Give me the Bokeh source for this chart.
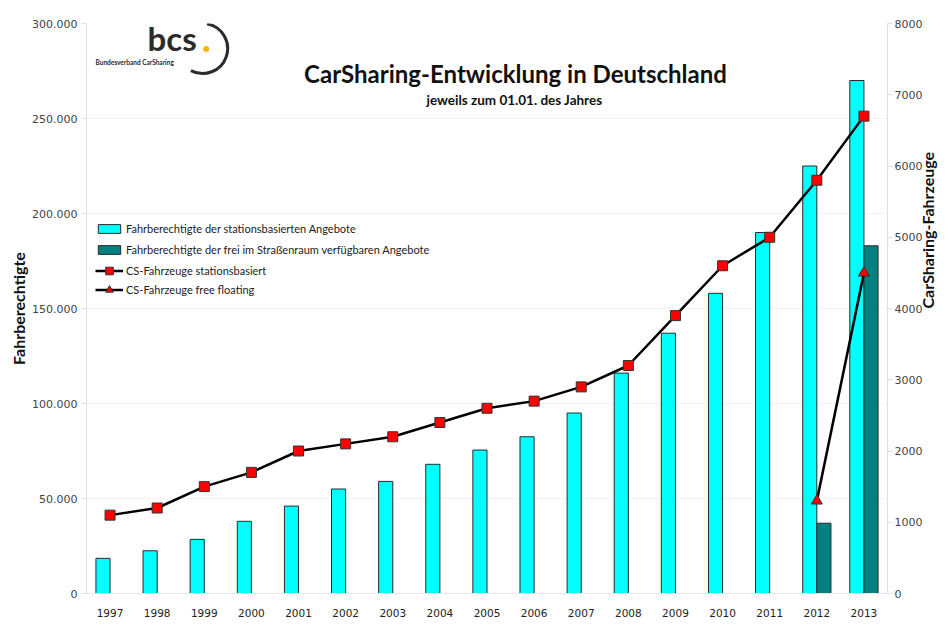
import math
from bokeh.plotting import figure
from bokeh.models import (Range1d, LinearAxis, FactorRange, Label, Legend, LegendItem,
                          CustomJSTickFormatter, FixedTicker, ColumnDataSource)
from bokeh.transform import dodge
from bokeh.embed import file_html
from bokeh.resources import INLINE

# ---------------- data ----------------
years = [str(y) for y in range(1997, 2014)]
fahrberechtigte_station = [18500, 22500, 28500, 38000, 46000, 55000, 59000, 68000, 75500,
                           82500, 95000, 116000, 137000, 158000, 190000, 225000, 270000]
years_free = ["2012", "2013"]
fahrberechtigte_free = [37000, 183000]
fahrzeuge_station = [1100, 1200, 1500, 1700, 2000, 2100, 2200, 2400, 2600,
                     2700, 2900, 3200, 3900, 4600, 5000, 5800, 6700]
fahrzeuge_free = [1300, 4500]

left_ticks = [0, 50000, 100000, 150000, 200000, 250000, 300000]
right_ticks = [0, 1000, 2000, 3000, 4000, 5000, 6000, 7000, 8000]

title_text = "CarSharing-Entwicklung in Deutschland"
subtitle_text = "jeweils zum 01.01. des Jahres"
left_label = "Fahrberechtigte"
right_label = "CarSharing-Fahrzeuge"
legend_labels = ["Fahrberechtigte der stationsbasierten Angebote",
                 "Fahrberechtigte der frei im Straßenraum verfügbaren Angebote",
                 "CS-Fahrzeuge stationsbasiert",
                 "CS-Fahrzeuge free floating"]

src_station = ColumnDataSource(dict(year=years, fb=fahrberechtigte_station, fz=fahrzeuge_station))
src_free = ColumnDataSource(dict(year=years_free, fb=fahrberechtigte_free, fz=fahrzeuge_free))

# ---------------- figure ----------------
W, H = 949, 624
FL, FR, FT, FB = 86, 893, 23, 593  # frame edges in page pixels
p = figure(width=W, height=H, output_backend="svg", toolbar_location=None,
           x_range=FactorRange(*years, range_padding=0),
           y_range=Range1d(0, 300000),
           min_border_left=FL, min_border_right=W - FR, min_border_top=FT,
           min_border_bottom=H - FB)
p.extra_y_ranges = {"right": Range1d(0, 8000)}
p.outline_line_color = None
p.background_fill_color = "white"
p.border_fill_color = "white"

p.xgrid.grid_line_color = None
p.ygrid.grid_line_color = "#f3f3f3"
p.ygrid.ticker = FixedTicker(ticks=left_ticks)

tick_font = "DejaVu Sans"
# x axis
p.xaxis.axis_line_color = "#e6e6e6"
p.xaxis.major_tick_line_color = None
p.xaxis.minor_tick_line_color = None
p.xaxis.major_label_text_font = tick_font
p.xaxis.major_label_text_font_size = "10.5px"
p.xaxis.major_label_text_color = "#222222"
p.xaxis.major_label_standoff = 9
# left axis
p.yaxis.ticker = FixedTicker(ticks=left_ticks)
p.yaxis.formatter = CustomJSTickFormatter(code="""
    return Math.round(tick).toString().replace(/\\B(?=(\\d{3})+(?!\\d))/g, '.');
""")
p.yaxis.axis_line_color = "#e0e0e0"
p.yaxis.major_tick_line_color = "#e0e0e0"
p.yaxis.major_tick_out = 5
p.yaxis.major_tick_in = 0
p.yaxis.minor_tick_line_color = None
p.yaxis.major_label_text_font = tick_font
p.yaxis.major_label_text_font_size = "11px"
p.yaxis.major_label_text_color = "#444444"
p.yaxis.major_label_standoff = 4
p.yaxis.axis_label = left_label
p.yaxis.axis_label_text_font = "Lato"
p.yaxis.axis_label_text_font_style = "bold"
p.yaxis.axis_label_text_font_size = "16px"
p.yaxis.axis_label_text_color = "#111111"
p.yaxis.axis_label_standoff = 1

right_axis = LinearAxis(y_range_name="right", ticker=FixedTicker(ticks=right_ticks))
right_axis.axis_line_color = "#e0e0e0"
right_axis.major_tick_line_color = "#e0e0e0"
right_axis.major_tick_out = 5
right_axis.major_tick_in = 0
right_axis.minor_tick_line_color = None
right_axis.major_label_text_font = tick_font
right_axis.major_label_text_font_size = "11px"
right_axis.major_label_text_color = "#444444"
right_axis.major_label_standoff = 2
right_axis.axis_label = right_label
right_axis.axis_label_text_font = "Lato"
right_axis.axis_label_text_font_style = "bold"
right_axis.axis_label_text_font_size = "16px"
right_axis.axis_label_text_color = "#111111"
right_axis.axis_label_standoff = 2
right_axis.axis_label_orientation = math.pi / 2
p.add_layout(right_axis, "right")

# ---------------- glyphs ----------------
bar_w = 0.3
r_bar1 = p.vbar(x=dodge("year", -bar_w / 2, range=p.x_range), top="fb", width=bar_w, bottom=0,
                source=src_station, fill_color="#00FFFF", line_color="#2a2a2a", line_width=1)
r_bar2 = p.vbar(x=dodge("year", bar_w / 2, range=p.x_range), top="fb", width=bar_w, bottom=0,
                source=src_free, fill_color="#008080", line_color="#2a2a2a", line_width=1)

r_l1 = p.line(x="year", y="fz", source=src_station, y_range_name="right",
              line_color="black", line_width=2.5)
r_m1 = p.scatter(x="year", y="fz", source=src_station, y_range_name="right", marker="square",
                 size=10, fill_color="#FF0000", line_color="#333333", line_width=1)
r_l2 = p.line(x="year", y="fz", source=src_free, y_range_name="right",
              line_color="black", line_width=2.5)
r_m2 = p.scatter(x="year", y="fz", source=src_free, y_range_name="right", marker="triangle",
                 size=11, fill_color="#FF0000", line_color="#333333", line_width=1)

# ---------------- legends ----------------
leg_font = "Lato"
leg1 = Legend(items=[LegendItem(label=legend_labels[0], renderers=[r_bar1]),
                     LegendItem(label=legend_labels[1], renderers=[r_bar2])],
              location=(9, 337), orientation="vertical",
              glyph_width=28, glyph_height=11, label_height=11, spacing=8,
              padding=0, margin=0, border_line_color=None, background_fill_alpha=0,
              label_text_font=leg_font, label_text_font_size="11px",
              label_text_color="#222222", label_standoff=3)
leg2 = Legend(items=[LegendItem(label=legend_labels[2], renderers=[r_l1, r_m1]),
                     LegendItem(label=legend_labels[3], renderers=[r_l2, r_m2])],
              location=(9, 294), orientation="vertical",
              glyph_width=28, glyph_height=19, label_height=19, spacing=0,
              padding=0, margin=0, border_line_color=None, background_fill_alpha=0,
              label_text_font=leg_font, label_text_font_size="11px",
              label_text_color="#222222", label_standoff=3)
p.add_layout(leg1, "center")
p.add_layout(leg2, "center")


# ---------------- texts (screen units, relative to frame) ----------------
def sx(x):
    return x - FL


def sy(y):
    return FB - y


p.add_layout(Label(x=sx(515), y=sy(73), x_units="screen", y_units="screen", text=title_text,
                   text_font="Lato", text_font_style="bold", text_font_size="24px",
                   text_align="center", text_baseline="middle", text_color="#111111"))
p.add_layout(Label(x=sx(514), y=sy(99), x_units="screen", y_units="screen", text=subtitle_text,
                   text_font="Lato", text_font_style="bold", text_font_size="13.5px",
                   text_align="center", text_baseline="middle", text_color="#111111"))

# logo
p.add_layout(Label(x=sx(147), y=sy(37), x_units="screen", y_units="screen", text="bcs",
                   text_font="Lato", text_font_style="bold", text_font_size="33px",
                   text_align="left", text_baseline="alphabetic", text_color="#2b2b2b"))
p.add_layout(Label(x=sx(206), y=sy(48), x_units="screen", y_units="screen", text="●",
                   text_font="DejaVu Sans", text_font_size="8px", text_align="center",
                   text_baseline="middle", text_color="#F2B705"))
p.add_layout(Label(x=sx(95), y=sy(62), x_units="screen", y_units="screen",
                   text="Bundesverband CarSharing", text_font="Lato", text_font_style="bold",
                   text_font_size="6.5px", text_align="left", text_baseline="middle",
                   text_color="#2b2b2b"))
# logo arc (decoration), placed in synthetic frame coordinates
px_per_cat = (FR - FL) / len(years)
px_per_unit = (FB - FT) / 300000
p.arc(x=[(203 - FL) / px_per_cat], y=[(FB - 48) / px_per_unit], radius=25, radius_units="screen",
      start_angle=math.radians(80), end_angle=math.radians(-118), direction="clock",
      line_color="#2b2b2b", line_width=3)

open("out.html", "w").write(file_html(p, INLINE))
